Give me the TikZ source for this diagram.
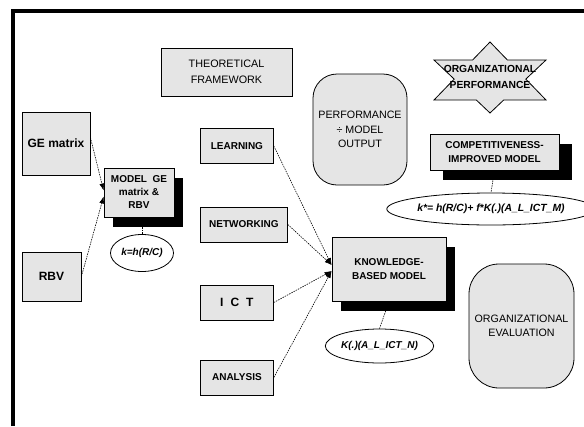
\documentclass[tikz,border=0pt]{standalone}
\usepackage{fontspec}
\setmainfont{Liberation Sans}
\usetikzlibrary{arrows.meta}
\usetikzlibrary{shapes.geometric}
\usetikzlibrary{shadows}

\begin{document}
\begin{tikzpicture}[x=1pt,y=-1pt,
    box/.style={draw,line width=0.8pt,fill=black!10,align=center,inner sep=0pt,
      font=\fontsize{10}{14.5}\selectfont\bfseries},
    plainbox/.style={box,font=\fontsize{10.7}{14.5}\selectfont},
    shadebox/.style={box,drop shadow={fill=black,opacity=1,shadow xshift=9pt,shadow yshift=-10pt}},
    formula/.style={draw,line width=0.8pt,ellipse,fill=white,inner sep=0pt,
      font=\fontsize{10}{12}\selectfont\bfseries\itshape},
    link/.style={dash pattern=on 1.5pt off 1pt,line width=0.6pt},
    feed/.style={link,-{Latex[length=7pt,width=5pt]}}]
      \useasboundingbox (0,0) rectangle (584,426);
      \draw[line width=4pt] (13,426) -- (13,10.5) -- (584,10.5);

      \node[plainbox,minimum width=131pt,minimum height=48pt,font=\fontsize{10.8}{16}\selectfont]
        (theory) at (226.5,72) {THEORETICAL\\FRAMEWORK};
      \node[box,minimum width=68pt,minimum height=63pt,font=\fontsize{12}{14}\selectfont\bfseries]
        (gem) at (56,143.5) {GE matrix};
      \node[box,minimum width=59pt,minimum height=49pt,font=\fontsize{12}{14}\selectfont\bfseries]
        (rbv) at (51.5,276.5) {RBV};
      \node[shadebox,minimum width=70pt,minimum height=49pt,font=\fontsize{10}{13}\selectfont\bfseries]
        (modelge) at (139,192.5) {MODEL\ \ GE\\matrix \&\\RBV};
      \node[formula,minimum width=63pt,minimum height=37pt] (kh) at (142,253) {k=h(R/C)};

      \foreach \nm/\yy/\bw/\txt in {learning/146/73/LEARNING,networking/224.5/87/NETWORKING,
                                    analysis/377.5/73/ANALYSIS} {
        \node[box,anchor=west,minimum width=\bw pt,minimum height=35pt] (\nm) at (200,\yy) {\txt};
      }
      \node[box,anchor=west,minimum width=73pt,minimum height=35pt,font=\fontsize{12}{14}\selectfont\bfseries]
        (ict) at (200,302.5) {I\hspace{7pt}C\hspace{7pt}T};

      \node[plainbox,rounded corners=24pt,minimum width=94pt,minimum height=111pt]
        (perf) at (360,129.5) {PERFORMANCE\\÷ MODEL\\OUTPUT};

      \filldraw[fill=black!10,line width=0.8pt] (490,42) -- (472.6,60) -- (434,60) -- (454.2,79.1)
        -- (434,100) -- (476.3,100) -- (490,113) -- (503.7,100) -- (546,100) -- (525.8,79.1)
        -- (546,60) -- (507.4,60) -- cycle;
      \node[align=center,inner sep=0pt,font=\fontsize{10.3}{16}\selectfont\bfseries]
        (orgperf) at (490,77) {ORGANIZATIONAL\\PERFORMANCE};

      \node[box,minimum width=129pt,minimum height=36pt,
        drop shadow={fill=black,opacity=1,shadow xshift=13pt,shadow yshift=-10pt}]
        (compet) at (494.5,152) {COMPETITIVENESS-\\IMPROVED MODEL};
      \node[formula,minimum width=186pt,minimum height=32pt,font=\fontsize{10.4}{12}\selectfont\bfseries\itshape]
        (compell) at (491,209) {k*= h(R/C)+ f*K(.)(A\_L\_ICT\_M)};

      \node[shadebox,minimum width=114pt,minimum height=64pt]
        (kb) at (389,269) {KNOWLEDGE-\\BASED MODEL};
      \node[formula,minimum width=97pt,minimum height=34pt] (kbell) at (379.5,346) {K(.)(A\_L\_ICT\_N)};

      \node[plainbox,rounded corners=30pt,minimum width=105pt,minimum height=124pt]
        (orgeval) at (521.5,326) {ORGANIZATIONAL\\EVALUATION};

      \draw[feed] ([yshift=6pt]gem.east) -- ([yshift=2pt]modelge.west);
      \draw[feed] (rbv.east) -- ([yshift=-4pt]modelge.west);
      \draw[link] ([xshift=3pt]modelge.south) -- (kh.north);
      \foreach \nm in {learning,networking} {
        \draw[feed] (\nm.east) -- ([yshift=4pt]kb.west);
      }
      \foreach \nm in {ict,analysis} {
        \draw[feed] (\nm.east) -- ([yshift=-2pt]kb.west);
      }
      \draw[link] (kb.south) -- (kbell.north);
      \draw[link] (compet.south) -- (compell.north);
    \end{tikzpicture}
\end{document}
